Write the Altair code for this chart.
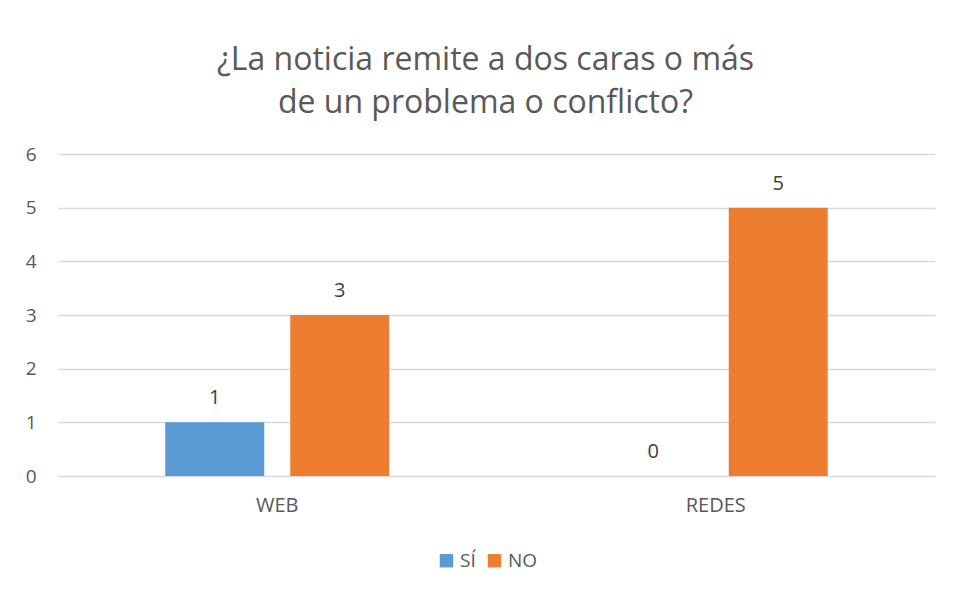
import altair as alt
import pandas as pd

medios = ["WEB", "WEB", "REDES", "REDES"]
respuestas = ["SÍ", "NO", "SÍ", "NO"]
valores = [1, 3, 0, 5]

orden_medios = ["WEB", "REDES"]
orden_resp = ["SÍ", "NO"]
colores = ["#5B9BD5", "#ED7D31"]
titulo = ["¿La noticia remite a dos caras o más", "de un problema o conflicto?"]

df = pd.DataFrame({"medio": medios, "respuesta": respuestas, "valor": valores})

FONT = "Open Sans"
GRAY = "#595959"

base = alt.Chart(df).encode(
    x=alt.X(
        "medio:N",
        sort=orden_medios,
        scale=alt.Scale(paddingInner=0, paddingOuter=0),
        axis=alt.Axis(
            title=None, labelAngle=0, ticks=False, domain=False, grid=False,
            labelFont=FONT, labelFontSize=20, labelColor=GRAY, labelPadding=19,
        ),
    ),
    xOffset=alt.XOffset(
        "respuesta:N",
        sort=orden_resp,
        scale=alt.Scale(paddingInner=0.208, paddingOuter=0.858),
    ),
    y=alt.Y(
        "valor:Q",
        scale=alt.Scale(domain=[0, 6]),
        axis=alt.Axis(
            title=None, values=[0, 1, 2, 3, 4, 5, 6], ticks=False, domain=False,
            labelFont=FONT, labelFontSize=19, labelColor=GRAY, labelPadding=22,
            gridColor="#d9d9d9", gridWidth=1.5,
        ),
    ),
)

bars = base.mark_bar().encode(
    color=alt.Color(
        "respuesta:N",
        sort=orden_resp,
        scale=alt.Scale(domain=orden_resp, range=colores),
        legend=alt.Legend(
            orient="none", legendX=379, legendY=397,
            direction="horizontal", title=None,
            symbolType="square", symbolSize=180, symbolStrokeWidth=0,
            labelFont=FONT, labelFontSize=19, labelColor=GRAY,
            columnPadding=9, labelOffset=4,
        ),
    )
)

text = base.mark_text(
    baseline="bottom", dy=-14, font=FONT, fontSize=20, color="#404040"
).encode(text="valor:Q")

chart = (
    alt.layer(bars, text)
    .properties(
        width=877,
        height=322,
        background="white",
        padding={"left": 50, "top": 146, "right": 20, "bottom": 104},
        autosize=alt.AutoSizeParams(type="none"),
        title=alt.TitleParams(
            text=titulo, font=FONT, fontSize=32, fontWeight="normal",
            color=GRAY, anchor="middle", dx=-11, offset=25, lineHeight=43,
        ),
    )
    .configure_view(strokeWidth=0, stroke="transparent")
)

chart.save("out.html", embed_options={"renderer": "svg", "actions": False})
